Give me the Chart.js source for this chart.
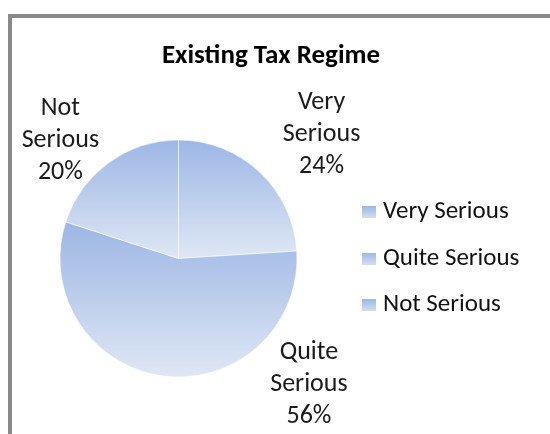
<!DOCTYPE html>
<html>
<head>
<meta charset="utf-8">
<script src="https://cdn.jsdelivr.net/npm/chart.js@4/dist/chart.umd.min.js"></script>
<style>
html, body { margin: 0; padding: 0; overflow: hidden; background: #fff; }
#frame { position: absolute; left: 8px; top: 14px; width: 620px; height: 520px; border: 4px solid #898989; }
#wrap { position: absolute; left: 0; top: 0; width: 550px; height: 434px; }
</style>
</head>
<body>
<div id="frame"></div>
<div id="wrap"><canvas id="taxChart" width="550" height="434"></canvas></div>
<script>
const categories = ["Very Serious", "Quite Serious", "Not Serious"];
const shares = [24, 56, 20];
const chartTitle = "Existing Tax Regime";

const FONT = "Carlito, 'Open Sans', Lato, sans-serif";
const TOP_BLUE = '#9cb6e4';
const LOW_BLUE = '#dfe7f5';
const LEGEND_WIDTH = 185;

// each slice gets its own top-to-bottom gradient over its bounding box
function sliceFill(ctx) {
	let chart = ctx.chart;
	let area = chart.chartArea;
	if (!area || ctx.type !== 'data') return '#b5c8ea';
	let cx = (area.left + area.right) / 2;
	let cy = (area.top + area.bottom) / 2;
	let r = Math.min(area.width, area.height) / 2;
	let total = shares.reduce((a, b) => a + b, 0);
	let before = 0;
	for (let i = 0; i < ctx.dataIndex; i++) before += shares[i];
	let a0 = -Math.PI / 2 + before / total * 2 * Math.PI;
	let a1 = a0 + shares[ctx.dataIndex] / total * 2 * Math.PI;
	let ys = [cy, cy + r * Math.sin(a0), cy + r * Math.sin(a1)];
	[-Math.PI / 2, Math.PI / 2, 3 * Math.PI / 2].forEach(a => {
		if (a >= a0 - 1e-9 && a <= a1 + 1e-9) ys.push(cy + r * Math.sin(a));
	});
	let g = chart.ctx.createLinearGradient(0, Math.min(...ys), 0, Math.max(...ys));
	g.addColorStop(0, TOP_BLUE);
	g.addColorStop(1, LOW_BLUE);
	return g;
}

// small gradient square used as the legend marker
function legendSwatch() {
	let c = document.createElement('canvas');
	c.width = 14;
	c.height = 12;
	let x = c.getContext('2d');
	let g = x.createLinearGradient(0, 0, 0, 12);
	g.addColorStop(0, TOP_BLUE);
	g.addColorStop(1, '#d3def2');
	x.fillStyle = g;
	x.fillRect(0, 0, 14, 12);
	return c;
}

// keep the legend column at a fixed width so the pie sits in the same place
const fixedLegend = {
	id: 'fixedLegend',
	beforeLayout(chart) {
		let lg = chart.legend;
		if (!lg || lg._fixedWidth) return;
		let fit = lg.fit;
		lg.fit = function () {
			fit.call(this);
			this.width = LEGEND_WIDTH;
		};
		lg._fixedWidth = true;
	}
};

// category name + percentage written outside each slice
const sliceLabels = {
	id: 'sliceLabels',
	afterDatasetsDraw(chart, args, opts) {
		let ctx = chart.ctx;
		let meta = chart.getDatasetMeta(0);
		ctx.save();
		ctx.font = opts.size + 'px ' + FONT;
		ctx.fillStyle = opts.color;
		ctx.textAlign = 'center';
		ctx.textBaseline = 'middle';
		meta.data.forEach((arc, i) => {
			let ang = opts.angle[i] * Math.PI / 180;
			let d = opts.dist[i] * arc.outerRadius;
			let px = arc.x + Math.sin(ang) * d;
			let py = arc.y - Math.cos(ang) * d;
			let lines = categories[i].split(' ').concat([shares[i] + '%']);
			let y0 = py - (lines.length - 1) * opts.lineHeight / 2;
			lines.forEach((t, k) => ctx.fillText(t, px, y0 + k * opts.lineHeight));
		});
		ctx.restore();
	}
};

let ctx1 = document.getElementById("taxChart").getContext('2d');
let taxChart = new Chart(ctx1, {
	type: 'pie',
	data: {
		labels: categories,
		datasets: [{
			data: shares,
			backgroundColor: sliceFill,
			borderColor: 'rgba(255,255,255,0.55)',
			borderWidth: 1
		}]
	},
	options: {
		responsive: false,
		animation: false,
		devicePixelRatio: 1,
		layout: {
			padding: { left: 11, right: 19, top: 0, bottom: 56.5 }
		},
		plugins: {
			title: {
				display: true,
				text: chartTitle,
				color: '#000',
				font: { family: FONT, size: 27, weight: 'bold' },
				padding: { top: 39.8, bottom: 67.3 }
			},
			legend: {
				position: 'right',
				fullSize: false,
				labels: {
					usePointStyle: true,
					pointStyle: legendSwatch(),
					pointStyleWidth: 3,
					padding: 21.5,
					color: '#111',
					font: { family: FONT, size: 25 }
				}
			},
			tooltip: { enabled: false },
			sliceLabels: {
				angle: [49, 134, 315],
				dist: [1.60, 1.53, 1.41],
				size: 26,
				lineHeight: 32,
				color: '#1a1a1a'
			}
		}
	},
	plugins: [fixedLegend, sliceLabels]
});
</script>
</body>
</html>
